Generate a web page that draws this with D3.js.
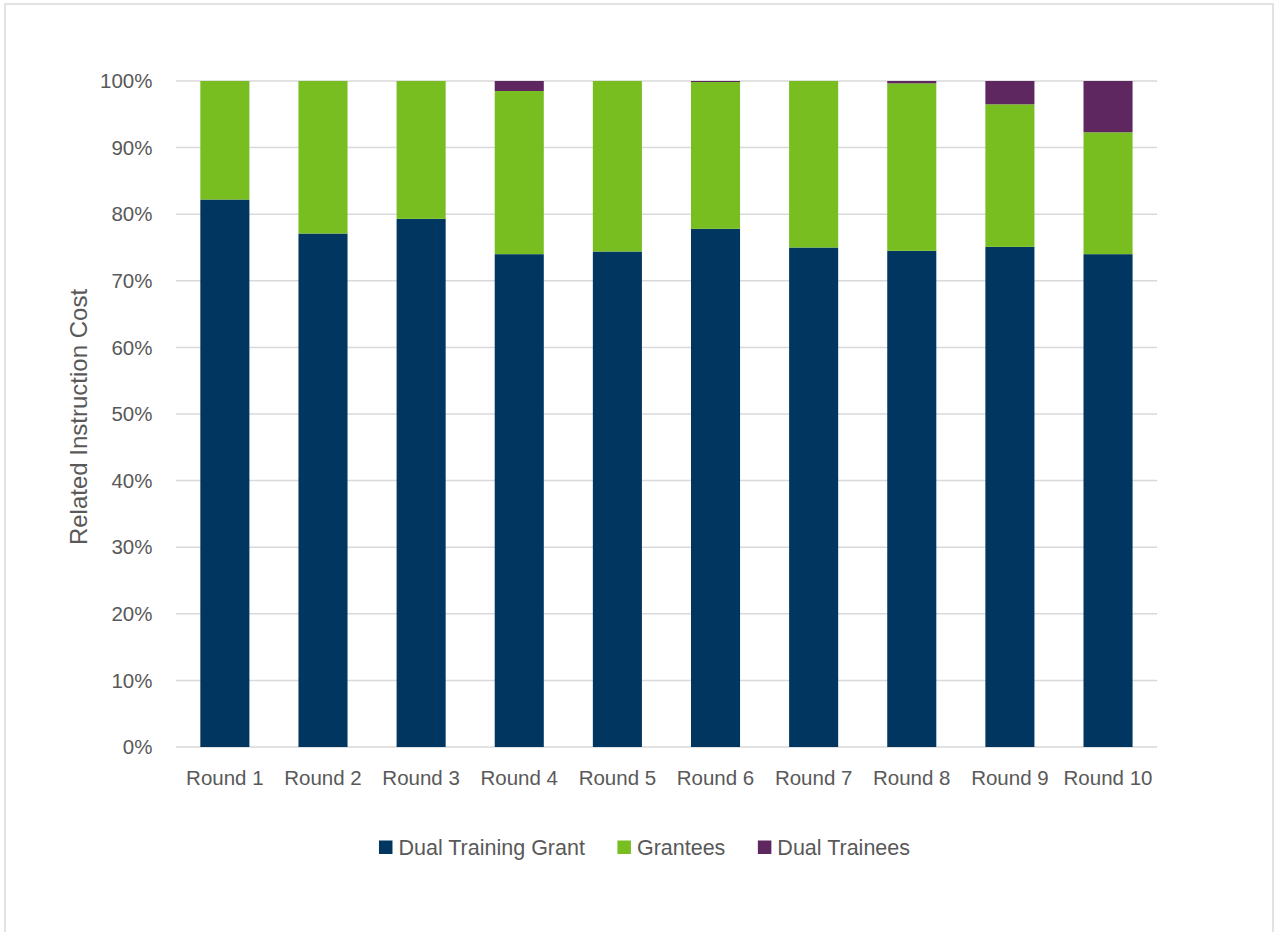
<!DOCTYPE html>
<html>
<head>
<meta charset="utf-8">
<script src="https://cdn.jsdelivr.net/npm/d3@7"></script>
<style>
  body { margin: 0; background: #fff; }
  text { font-family: "Liberation Sans", Arial, sans-serif; fill: #595959; }
</style>
</head>
<body>
<div id="chart"></div>
<script>
const W = 1275, H = 932;

// data (percent of related instruction cost)
const rounds = ["Round 1", "Round 2", "Round 3", "Round 4", "Round 5",
                "Round 6", "Round 7", "Round 8", "Round 9", "Round 10"];
const dualGrant = [82.2, 77.1, 79.3, 74.0, 74.4, 77.8, 75.0, 74.5, 75.1, 74.0];
const grantees  = [17.8, 22.9, 20.7, 24.5, 25.6, 22.05, 25.0, 25.15, 21.4, 18.3];
const trainees  = [0, 0, 0, 1.5, 0, 0.15, 0, 0.35, 3.5, 7.7];
const seriesNames = ["Dual Training Grant", "Grantees", "Dual Trainees"];
const seriesKeys = ["grant", "grantees", "trainees"];
const colors = ["#003660", "#78BE20", "#5E2760"];
const yTicks = [0, 10, 20, 30, 40, 50, 60, 70, 80, 90, 100];

var rows = rounds.map(function(r, i) {
    return { round: r, grant: dualGrant[i], grantees: grantees[i], trainees: trainees[i] };
});

var margin = { left: 175.8, right: W - 1157.1, top: 81, bottom: H - 747 };

var svg = d3.select("#chart").append("svg")
    .attr("width", W)
    .attr("height", H);

// chart border
svg.append("rect")
    .attr("x", 5).attr("y", 4)
    .attr("width", 1268).attr("height", 940)
    .attr("fill", "#fff")
    .attr("stroke", "#d9d9d9")
    .attr("stroke-width", 1.5);

var x = d3.scaleBand()
    .domain(rounds)
    .range([margin.left, W - margin.right])
    .paddingInner(0.5)
    .paddingOuter(0.25);

var y = d3.scaleLinear()
    .domain([0, 100])
    .range([H - margin.bottom, margin.top]);

// gridlines
svg.append("g")
    .selectAll("line")
    .data(yTicks)
    .enter()
    .append("line")
    .attr("x1", margin.left)
    .attr("x2", W - margin.right)
    .attr("y1", function(d) { return y(d); })
    .attr("y2", function(d) { return y(d); })
    .attr("stroke", "#d9d9d9")
    .attr("stroke-width", 1.5);

// y tick labels
svg.append("g")
    .selectAll("text")
    .data(yTicks)
    .enter()
    .append("text")
    .attr("x", 152.5)
    .attr("y", function(d) { return y(d); })
    .attr("dy", "0.35em")
    .attr("text-anchor", "end")
    .attr("font-size", 20.5)
    .text(function(d) { return d + "%"; });

// stacked bars
var stacked = d3.stack().keys(seriesKeys)(rows);

svg.append("g")
    .selectAll("g")
    .data(stacked)
    .enter()
    .append("g")
    .attr("fill", function(d, i) { return colors[i]; })
    .selectAll("rect")
    .data(function(d) { return d; })
    .enter()
    .append("rect")
    .attr("x", function(d) { return x(d.data.round); })
    .attr("width", x.bandwidth())
    .attr("y", function(d) { return y(d[1]); })
    .attr("height", function(d) { return y(d[0]) - y(d[1]); });

// x labels
svg.append("g")
    .selectAll("text")
    .data(rounds)
    .enter()
    .append("text")
    .attr("x", function(d) { return x(d) + x.bandwidth() / 2; })
    .attr("y", 785)
    .attr("text-anchor", "middle")
    .attr("font-size", 20.5)
    .text(function(d) { return d; });

// y axis title
svg.append("text")
    .attr("transform", "translate(87,417) rotate(-90)")
    .attr("text-anchor", "middle")
    .attr("font-size", 24)
    .text("Related Instruction Cost");

// legend, centred
var legend = svg.append("g");
var items = legend.selectAll("g")
    .data(seriesNames)
    .enter()
    .append("g");

items.append("rect")
    .attr("width", 13.5)
    .attr("height", 13.5)
    .attr("y", 840.5)
    .attr("fill", function(d, i) { return colors[i]; });

items.append("text")
    .attr("x", 19.5)
    .attr("y", 854.5)
    .attr("font-size", 21.5)
    .text(function(d) { return d; });

var widths = [];
items.each(function() { widths.push(this.getBBox().width); });
var gap = 32.5;
var total = d3.sum(widths) + gap * (widths.length - 1);
var cx = 644.5;
var pos = cx - total / 2;
items.attr("transform", function(d, i) {
    var t = "translate(" + pos + ",0)";
    pos += widths[i] + gap;
    return t;
});
</script>
</body>
</html>
